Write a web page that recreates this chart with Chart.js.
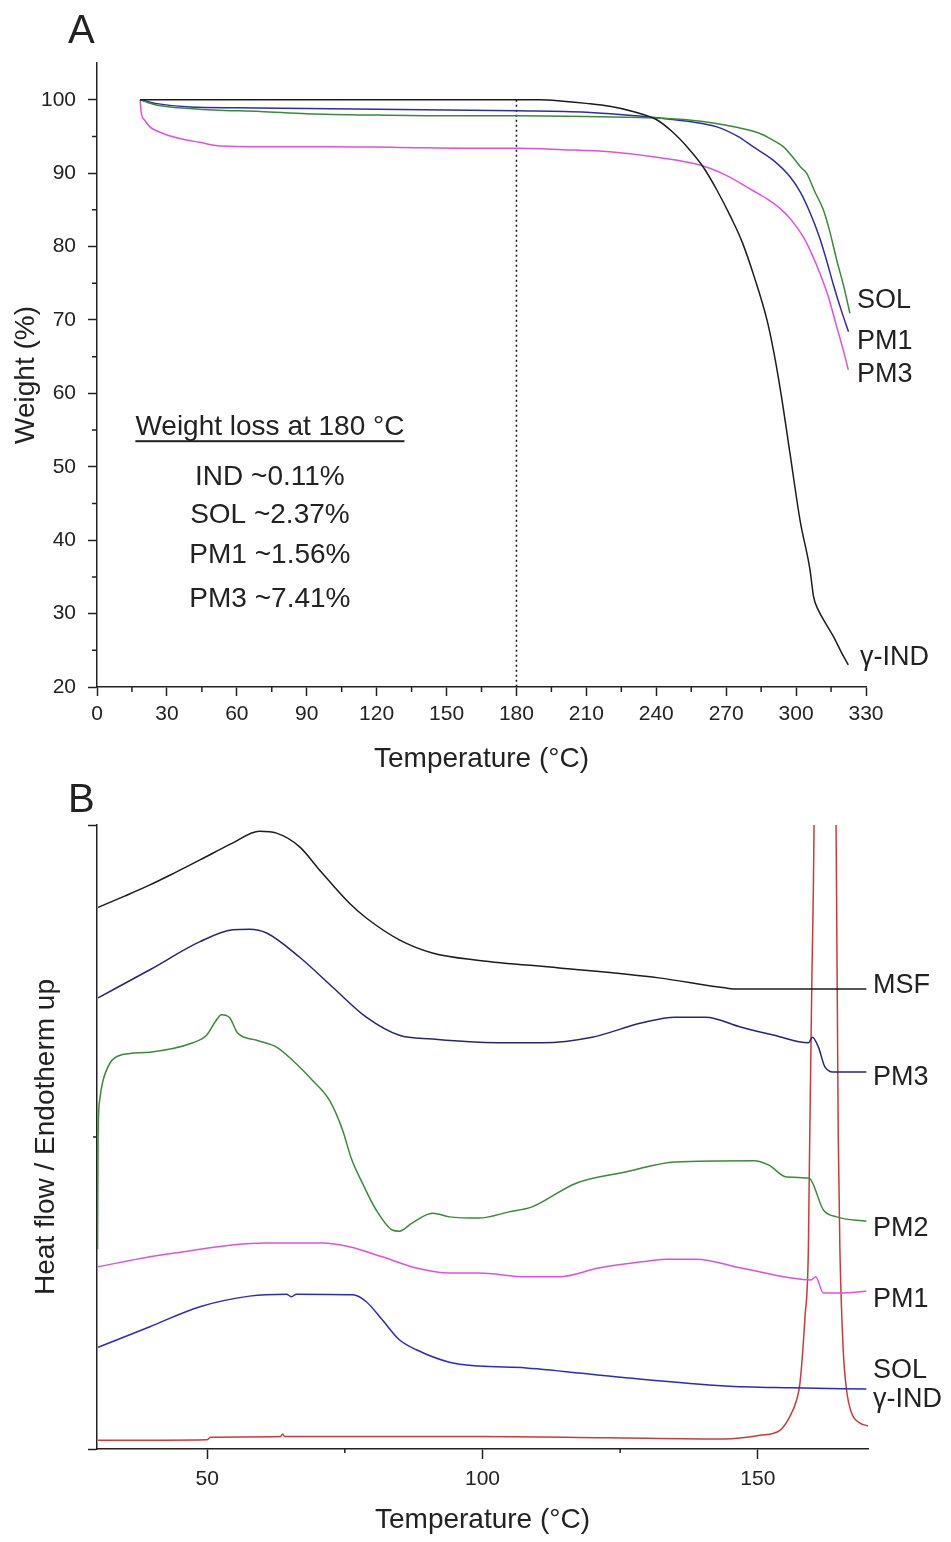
<!DOCTYPE html>
<html>
<head>
<meta charset="utf-8">
<script src="https://cdn.jsdelivr.net/npm/chart.js@4.4.1/dist/chart.umd.min.js"></script>
<style>
  body { margin: 0; background: #fff; }
  #wrap { position: relative; width: 951px; height: 1542px; }
  #tga { position: absolute; left: 0; top: 0; width: 951px; height: 790px; }
  #dsc { position: absolute; left: 0; top: 770px; width: 951px; height: 772px; }
</style>
</head>
<body>
<div id="wrap">
  <canvas id="tga" width="951" height="790"></canvas>
  <canvas id="dsc" width="951" height="772"></canvas>
</div>
<script>
// ---- panel A : TGA, weight (%) vs temperature (°C) ----
const tgaIndT = [18.5, 40, 80, 120, 160, 190, 200, 210, 220, 230, 240, 247, 254, 260, 266, 272, 277, 282, 287.5, 290.5, 293.5, 297.4, 301.7, 306, 307.5, 309.5, 313, 316, 319, 322.4];
const tgaIndW = [100, 100, 100, 100, 100, 100, 99.8, 99.5, 99.1, 98.4, 97.3, 95.6, 93.3, 90.9, 87.7, 84.0, 80.5, 75.9, 70.0, 65.5, 60.0, 51.8, 42.7, 35.9, 32.3, 30.5, 28.5, 26.9, 25.0, 23.0];

const tgaSolT = [18.5, 25, 35, 50, 70, 90, 120, 150, 180, 210, 240, 255, 265, 275, 284.5, 290, 294.5, 298, 302, 304.5, 308, 311.7, 314.5, 317.4, 320.5, 323.1];
const tgaSolW = [100, 99.3, 98.9, 98.6, 98.4, 98.1, 97.9, 97.8, 97.8, 97.7, 97.5, 97.2, 96.8, 96.2, 95.4, 94.5, 93.6, 92.4, 90.8, 90.0, 87.5, 85.0, 82.0, 78.2, 74.5, 70.9];

const tgaPm1T = [18.5, 25, 40, 60, 90, 120, 150, 180, 210, 241.7, 255, 266, 275, 281.5, 290, 297.4, 302, 306, 310, 313, 316, 319.5, 322.5];
const tgaPm1W = [100, 99.5, 99.0, 98.9, 98.8, 98.7, 98.6, 98.5, 98.3, 97.5, 97.0, 96.3, 95.0, 93.6, 91.8, 89.5, 87.3, 84.6, 81.3, 78.2, 74.8, 71.2, 68.4];

const tgaPm3T = [18.5, 19, 20.5, 22.7, 26, 30, 37, 44, 52.8, 70, 100, 130, 160, 180, 200, 220, 241.7, 258.8, 270, 281.6, 288, 293.1, 298, 303.1, 307, 310.3, 314, 317.4, 320, 322.4];
const tgaPm3W = [100, 98.2, 97.2, 96.3, 95.7, 95.2, 94.6, 94.2, 93.7, 93.6, 93.6, 93.5, 93.4, 93.4, 93.2, 92.9, 92.1, 91.1, 89.7, 87.6, 86.4, 85.2, 83.6, 81.3, 78.8, 76.3, 73.0, 69.1, 66.2, 63.2];

const markT = [180, 180];
const markW = [100, 20];

const tgaXTicks = [0, 30, 60, 90, 120, 150, 180, 210, 240, 270, 300, 330];
const tgaXMinor = [15, 45, 75, 105, 135, 165, 195, 225, 255, 285, 315];
const tgaYTicks = [20, 30, 40, 50, 60, 70, 80, 90, 100];
const tgaYMinor = [25, 35, 45, 55, 65, 75, 85, 95];

const lossTitle = 'Weight loss at 180 °C';
const lossLines = ['IND ~0.11%', 'SOL ~2.37%', 'PM1 ~1.56%', 'PM3 ~7.41%'];

// ---- panel B : DSC, heat flow (a.u.) vs temperature (°C) ----
const msfT = [30.2, 35, 39.6, 44, 48.7, 54.6, 59.5, 62.6, 66.8, 70.4, 75.8, 78.9, 84.9, 90.9, 99.4, 113.9, 132, 144, 146.5, 160, 169.7];
const msfV = [86.8, 88.6, 90.4, 92.3, 94.4, 97.1, 99.0, 98.7, 96.5, 92.8, 87.5, 85.1, 81.6, 79.5, 78.3, 77.1, 75.5, 73.9, 73.7, 73.7, 73.7];

const pm3T = [30.2, 39.6, 48.7, 54.6, 57.7, 60.8, 66.8, 72.8, 78.9, 84.9, 90.9, 99.4, 110.8, 119.9, 129, 135, 140.5, 147, 153, 159.2, 159.9, 161, 162.2, 164, 169.7];
const pm3V = [72.3, 76.8, 81.3, 83.2, 83.3, 82.7, 78.8, 74.0, 69.2, 66.3, 65.7, 65.2, 65.1, 66.0, 68.3, 69.2, 69.2, 67.6, 66.3, 65.1, 66.0, 64.4, 61.2, 60.4, 60.4];

const pm2T = [30.1, 30.2, 30.5, 31, 32.4, 34.2, 39.6, 47.4, 49.9, 51.5, 52.6, 54.1, 55.5, 59, 62.6, 65.5, 69.1, 72.2, 74.6, 76.2, 78.2, 80.7, 83.6, 84.9, 87.2, 90.9, 94, 99.4, 104.8, 109, 117, 126, 135, 149.2, 152, 155.2, 159.3, 161.9, 164.3, 169.7];
const pm2V = [32, 50, 56, 58.7, 61.9, 63.1, 63.6, 65.1, 66.3, 68.5, 69.6, 69.1, 66.7, 65.5, 64.4, 62.3, 59.1, 55.9, 51.1, 46.5, 42.6, 38.3, 35.1, 34.9, 36.2, 37.8, 37.2, 37.0, 38.0, 38.8, 42.6, 44.4, 46.0, 46.2, 45.5, 43.6, 43.4, 38.3, 37.2, 36.5];

const pm1T = [30.2, 39.6, 48.7, 54.6, 60.8, 70.9, 75.8, 81.8, 88, 94, 99.4, 107.9, 113.9, 121.1, 129, 133.3, 138.7, 147, 156.1, 159.7, 160.5, 161.9, 165, 169.7];
const pm1V = [29.2, 30.8, 32.0, 32.7, 33.0, 33.0, 32.4, 30.8, 29.0, 28.2, 28.2, 27.6, 27.6, 29.0, 30.0, 30.4, 30.4, 29.0, 27.4, 27.1, 27.6, 25.0, 25.0, 25.3];

const solT = [30.2, 39.6, 48.7, 57.7, 64.4, 65.3, 66.2, 76.4, 78.9, 81.8, 84.9, 88, 94, 99.4, 107.9, 126, 144, 156.1, 169.7];
const solV = [16.3, 19.6, 22.8, 24.5, 24.8, 24.4, 24.8, 24.7, 23.6, 20.7, 17.5, 15.9, 13.9, 13.3, 13.0, 11.4, 10.1, 9.8, 9.6];

const indT = [30.2, 50, 50.6, 63.3, 63.7, 64.1, 80, 99.4, 122.4, 144, 150.4, 154.0, 155.8, 157.05, 157.65, 158.56, 159.17, 159.35, 159.8, 160.2, 161.5, 163.0, 164.2, 164.6, 164.9, 165.5, 166.1, 167.0, 168.5, 170.0];
const indV = [1.4, 1.5, 1.9, 2.0, 2.4, 2.0, 2.0, 2.0, 1.8, 1.6, 2.2, 3.0, 5.2, 7.9, 10.6, 21.2, 31.9, 45.2, 74.7, 100, 300, 300, 100, 50, 31.9, 15.9, 9.5, 5.8, 4.2, 3.7];

const dscXTicks = [50, 100, 150];
const dscXMinor = [75, 125];
const dscYTicks = [0, 100];
const dscYMinor = [50];

// ---- shared style ----
const FONT = "'Liberation Sans', Arial, sans-serif";
const INK = '#222';
const pts = (xs, ys) => xs.map((x, i) => ({ x, y: ys[i] }));

const line = (data, color, extra = {}) => Object.assign({
	data,
	borderColor: color,
	borderWidth: 1.5,
	pointRadius: 0,
	cubicInterpolationMode: 'monotone',
	fill: false,
}, extra);

//* minor tick marks drawn off the scales
const minorTicks = {
	id: 'minorTicks',
	afterDraw(chart, args, opts) {
		const { ctx } = chart;
		const xs = chart.scales.x, ys = chart.scales.y;
		ctx.save();
		ctx.strokeStyle = INK;
		ctx.lineWidth = 1.5;
		ctx.beginPath();
		opts.x.forEach((v) => {
			const px = xs.getPixelForValue(v);
			ctx.moveTo(px, xs.top);
			ctx.lineTo(px, xs.top + opts.len);
		});
		opts.y.forEach((v) => {
			const py = ys.getPixelForValue(v);
			ctx.moveTo(ys.right, py);
			ctx.lineTo(ys.right - opts.len, py);
		});
		ctx.stroke();
		ctx.restore();
	},
};

//* curve names at the right end, panel letter, text notes
const labels = {
	id: 'labels',
	afterDraw(chart, args, opts) {
		const { ctx } = chart;
		const xs = chart.scales.x, ys = chart.scales.y;
		ctx.save();
		ctx.fillStyle = INK;
		ctx.textAlign = 'left';
		ctx.textBaseline = 'middle';
		ctx.font = `27px ${FONT}`;
		opts.items.forEach((it) => {
			ctx.fillText(it.text, xs.getPixelForValue(it.x), ys.getPixelForValue(it.y));
		});
		ctx.textBaseline = 'alphabetic';
		ctx.font = `40px ${FONT}`;
		ctx.fillText(opts.letter, 68, opts.letterY);
		if (opts.note) {
			const n = opts.note;
			const cx = xs.getPixelForValue(n.x);
			ctx.textAlign = 'center';
			ctx.font = `28px ${FONT}`;
			ctx.fillText(n.title, cx, ys.getPixelForValue(n.titleY));
			const w = ctx.measureText(n.title).width;
			const uy = ys.getPixelForValue(n.titleY) + 5;
			ctx.fillRect(cx - w / 2, uy, w, 2);
			n.lines.forEach((t, i) => ctx.fillText(t, cx, ys.getPixelForValue(n.lineY[i])));
		}
		ctx.restore();
	},
};

const axis = (ticks, extra) => Object.assign({
	type: 'linear',
	afterBuildTicks: (scale) => { scale.ticks = ticks.map((v) => ({ value: v })); },
	border: { display: true, color: INK, width: 1.5 },
	grid: { drawOnChartArea: false, drawTicks: true, tickLength: 9, tickColor: INK, tickWidth: 1.5 },
	ticks: { color: INK, font: { family: FONT, size: 21 }, padding: 6, maxRotation: 0, autoSkip: false },
}, extra);

// ---- chart A ----
new Chart(document.getElementById('tga'), {
	type: 'line',
	data: {
		datasets: [
			line(pts(tgaIndT, tgaIndW), '#1c1c1c'),
			line(pts(tgaSolT, tgaSolW), '#3a8a3a'),
			line(pts(tgaPm1T, tgaPm1W), '#2d2da8'),
			line(pts(tgaPm3T, tgaPm3W), '#e050e0'),
			line(pts(markT, markW), '#111', { cubicInterpolationMode: 'default', tension: 0, borderDash: [2, 3] }),
		],
	},
	options: {
		responsive: false,
		animation: false,
		events: [],
		layout: { padding: { left: 0, top: 63, right: 85, bottom: 0 } },
		plugins: {
			legend: { display: false },
			tooltip: { enabled: false },
			minorTicks: { x: tgaXMinor, y: tgaYMinor, len: 5 },
			labels: {
				letter: 'A',
				letterY: 43,
				items: [
					{ text: 'SOL', x: 326.1, y: 72.6 },
					{ text: 'PM1', x: 326.1, y: 67.1 },
					{ text: 'PM3', x: 326.1, y: 62.5 },
					{ text: 'γ-IND', x: 327.4, y: 23.95 },
				],
				note: { x: 74.2, title: lossTitle, titleY: 54.3, lines: lossLines, lineY: [47.5, 42.3, 36.9, 30.9] },
			},
		},
		scales: {
			x: axis(tgaXTicks, {
				min: 0, max: 330,
				afterFit: (s) => { s.height = 103; },
				title: { display: true, text: 'Temperature (°C)', color: INK, font: { family: FONT, size: 28 }, padding: { top: 0, bottom: 14 } },
			}),
			y: axis(tgaYTicks, {
				min: 20, max: 105,
				afterFit: (s) => { s.width = 97; },
				ticks: { color: INK, font: { family: FONT, size: 21 }, padding: 12 },
				title: { display: true, text: 'Weight (%)', color: INK, font: { family: FONT, size: 28 }, padding: { top: 9, bottom: 0 } },
			}),
		},
	},
	plugins: [minorTicks, labels],
});

// ---- chart B ----
new Chart(document.getElementById('dsc'), {
	type: 'line',
	data: {
		datasets: [
			line(pts(msfT, msfV), '#1c1c1c'),
			line(pts(pm3T, pm3V), '#262673'),
			line(pts(pm2T, pm2V), '#3a8a3a'),
			line(pts(pm1T, pm1V), '#e050e0'),
			line(pts(solT, solV), '#2b2bc0'),
			line(pts(indT, indV), '#cc3a3a'),
		],
	},
	options: {
		responsive: false,
		animation: false,
		events: [],
		layout: { padding: { left: 0, top: 55, right: 83, bottom: 0 } },
		plugins: {
			legend: { display: false },
			tooltip: { enabled: false },
			minorTicks: { x: dscXMinor, y: dscYMinor, len: 4 },
			labels: {
				letter: 'B',
				letterY: 42,
				items: [
					{ text: 'MSF', x: 170.9, y: 74.2 },
					{ text: 'PM3', x: 170.9, y: 59.5 },
					{ text: 'PM2', x: 170.9, y: 35.4 },
					{ text: 'PM1', x: 170.9, y: 23.9 },
					{ text: 'SOL', x: 170.9, y: 12.5 },
					{ text: 'γ-IND', x: 170.9, y: 7.9 },
				],
			},
		},
		scales: {
			x: axis(dscXTicks, {
				min: 30, max: 170,
				afterFit: (s) => { s.height = 93; },
				grid: { drawOnChartArea: false, drawTicks: true, tickLength: 10, tickColor: INK, tickWidth: 1.5 },
				ticks: { color: INK, font: { family: FONT, size: 21 }, padding: 8, maxRotation: 0, autoSkip: false },
				title: { display: true, text: 'Temperature (°C)', color: INK, font: { family: FONT, size: 28 }, padding: { top: 0, bottom: 5 } },
			}),
			y: axis(dscYTicks, {
				min: 0, max: 100,
				afterFit: (s) => { s.width = 97; },
				ticks: { display: true, callback: () => '', padding: 0 },
				title: { display: true, text: 'Heat flow / Endotherm up', color: INK, font: { family: FONT, size: 28 }, padding: { top: 29, bottom: 0 } },
			}),
		},
	},
	plugins: [minorTicks, labels],
});
</script>
</body>
</html>
